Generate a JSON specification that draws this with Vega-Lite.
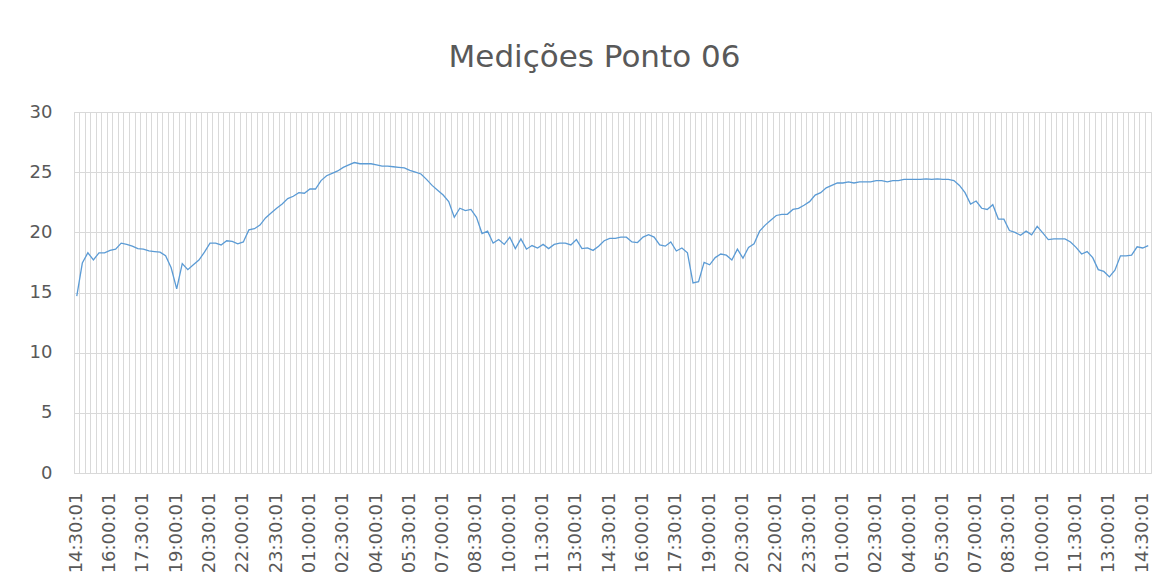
{
  "$schema": "https://vega.github.io/schema/vega-lite/v6.json",
  "autosize": "none",
  "width": 1077,
  "height": 361,
  "padding": {"left": 74, "top": 112, "right": 18, "bottom": 114},
  "background": "white",
  "title": {
    "text": "Medições Ponto 06",
    "font": "DejaVu Sans",
    "fontSize": 31,
    "fontWeight": "normal",
    "color": "#595959",
    "anchor": "middle",
    "frame": "group",
    "baseline": "bottom",
    "offset": 38,
    "dx": -18,
    "dy": 40
  },
  "config": {
    "view": {"stroke": "#d9d9d9", "strokeWidth": 1},
    "axis": {"labelFont": "DejaVu Sans", "labelColor": "#595959", "labelFontSize": 18}
  },
  "data": {
    "values": [
      {"k":"1 14:30:01","v":14.7},{"k":"1 14:45:01","v":17.45},{"k":"1 15:00:01","v":18.3},{"k":"1 15:15:01","v":17.7},
      {"k":"1 15:30:01","v":18.3},{"k":"1 15:45:01","v":18.3},{"k":"1 16:00:01","v":18.5},{"k":"1 16:15:01","v":18.6},
      {"k":"1 16:30:01","v":19.1},{"k":"1 16:45:01","v":19.0},{"k":"1 17:00:01","v":18.85},{"k":"1 17:15:01","v":18.65},
      {"k":"1 17:30:01","v":18.6},{"k":"1 17:45:01","v":18.45},{"k":"1 18:00:01","v":18.4},{"k":"1 18:15:01","v":18.35},
      {"k":"1 18:30:01","v":18.05},{"k":"1 18:45:01","v":17.05},{"k":"1 19:00:01","v":15.3},{"k":"1 19:15:01","v":17.4},
      {"k":"1 19:30:01","v":16.9},{"k":"1 19:45:01","v":17.3},{"k":"1 20:00:01","v":17.7},{"k":"1 20:15:01","v":18.35},
      {"k":"1 20:30:01","v":19.1},{"k":"1 20:45:01","v":19.1},{"k":"1 21:00:01","v":18.95},{"k":"1 21:15:01","v":19.3},
      {"k":"1 21:30:01","v":19.25},{"k":"1 21:45:01","v":19.05},{"k":"1 22:00:01","v":19.2},{"k":"1 22:15:01","v":20.2},
      {"k":"1 22:30:01","v":20.3},{"k":"1 22:45:01","v":20.6},{"k":"1 23:00:01","v":21.2},{"k":"1 23:15:01","v":21.6},
      {"k":"1 23:30:01","v":22.0},{"k":"1 23:45:01","v":22.35},
      {"k":"2 00:00:01","v":22.8},{"k":"2 00:15:01","v":23.0},{"k":"2 00:30:01","v":23.3},{"k":"2 00:45:01","v":23.25},
      {"k":"2 01:00:01","v":23.6},{"k":"2 01:15:01","v":23.6},{"k":"2 01:30:01","v":24.3},{"k":"2 01:45:01","v":24.7},
      {"k":"2 02:00:01","v":24.9},{"k":"2 02:15:01","v":25.1},{"k":"2 02:30:01","v":25.4},{"k":"2 02:45:01","v":25.6},
      {"k":"2 03:00:01","v":25.8},{"k":"2 03:15:01","v":25.7},{"k":"2 03:30:01","v":25.7},{"k":"2 03:45:01","v":25.7},
      {"k":"2 04:00:01","v":25.6},{"k":"2 04:15:01","v":25.5},{"k":"2 04:30:01","v":25.5},{"k":"2 04:45:01","v":25.45},
      {"k":"2 05:00:01","v":25.4},{"k":"2 05:15:01","v":25.35},{"k":"2 05:30:01","v":25.15},{"k":"2 05:45:01","v":25.0},
      {"k":"2 06:00:01","v":24.85},{"k":"2 06:15:01","v":24.4},{"k":"2 06:30:01","v":23.9},{"k":"2 06:45:01","v":23.5},
      {"k":"2 07:00:01","v":23.1},{"k":"2 07:15:01","v":22.55},{"k":"2 07:30:01","v":21.25},{"k":"2 07:45:01","v":22.0},
      {"k":"2 08:00:01","v":21.8},{"k":"2 08:15:01","v":21.9},{"k":"2 08:30:01","v":21.25},{"k":"2 08:45:01","v":19.9},
      {"k":"2 09:00:01","v":20.1},{"k":"2 09:15:01","v":19.1},{"k":"2 09:30:01","v":19.4},{"k":"2 09:45:01","v":19.0},
      {"k":"2 10:00:01","v":19.6},{"k":"2 10:15:01","v":18.65},{"k":"2 10:30:01","v":19.45},{"k":"2 10:45:01","v":18.6},
      {"k":"2 11:00:01","v":18.9},{"k":"2 11:15:01","v":18.7},{"k":"2 11:30:01","v":19.0},{"k":"2 11:45:01","v":18.65},
      {"k":"2 12:00:01","v":19.0},{"k":"2 12:15:01","v":19.1},{"k":"2 12:30:01","v":19.1},{"k":"2 12:45:01","v":18.95},
      {"k":"2 13:00:01","v":19.4},{"k":"2 13:15:01","v":18.65},{"k":"2 13:30:01","v":18.7},{"k":"2 13:45:01","v":18.5},
      {"k":"2 14:00:01","v":18.85},{"k":"2 14:15:01","v":19.3},{"k":"2 14:30:01","v":19.5},{"k":"2 14:45:01","v":19.5},
      {"k":"2 15:00:01","v":19.6},{"k":"2 15:15:01","v":19.6},{"k":"2 15:30:01","v":19.2},{"k":"2 15:45:01","v":19.15},
      {"k":"2 16:00:01","v":19.6},{"k":"2 16:15:01","v":19.8},{"k":"2 16:30:01","v":19.6},{"k":"2 16:45:01","v":18.95},
      {"k":"2 17:00:01","v":18.85},{"k":"2 17:15:01","v":19.2},{"k":"2 17:30:01","v":18.45},{"k":"2 17:45:01","v":18.7},
      {"k":"2 18:00:01","v":18.3},{"k":"2 18:15:01","v":15.8},{"k":"2 18:30:01","v":15.9},{"k":"2 18:45:01","v":17.5},
      {"k":"2 19:00:01","v":17.3},{"k":"2 19:15:01","v":17.9},{"k":"2 19:30:01","v":18.2},{"k":"2 19:45:01","v":18.1},
      {"k":"2 20:00:01","v":17.7},{"k":"2 20:15:01","v":18.6},{"k":"2 20:30:01","v":17.85},{"k":"2 20:45:01","v":18.75},
      {"k":"2 21:00:01","v":19.05},{"k":"2 21:15:01","v":20.1},{"k":"2 21:30:01","v":20.6},{"k":"2 21:45:01","v":21.0},
      {"k":"2 22:00:01","v":21.4},{"k":"2 22:15:01","v":21.5},{"k":"2 22:30:01","v":21.5},{"k":"2 22:45:01","v":21.9},
      {"k":"2 23:00:01","v":22.0},{"k":"2 23:15:01","v":22.25},{"k":"2 23:30:01","v":22.55},{"k":"2 23:45:01","v":23.1},
      {"k":"3 00:00:01","v":23.3},{"k":"3 00:15:01","v":23.7},{"k":"3 00:30:01","v":23.9},{"k":"3 00:45:01","v":24.1},
      {"k":"3 01:00:01","v":24.1},{"k":"3 01:15:01","v":24.2},{"k":"3 01:30:01","v":24.1},{"k":"3 01:45:01","v":24.2},
      {"k":"3 02:00:01","v":24.2},{"k":"3 02:15:01","v":24.2},{"k":"3 02:30:01","v":24.3},{"k":"3 02:45:01","v":24.3},
      {"k":"3 03:00:01","v":24.2},{"k":"3 03:15:01","v":24.3},{"k":"3 03:30:01","v":24.3},{"k":"3 03:45:01","v":24.4},
      {"k":"3 04:00:01","v":24.4},{"k":"3 04:15:01","v":24.4},{"k":"3 04:30:01","v":24.4},{"k":"3 04:45:01","v":24.45},
      {"k":"3 05:00:01","v":24.4},{"k":"3 05:15:01","v":24.45},{"k":"3 05:30:01","v":24.4},{"k":"3 05:45:01","v":24.4},
      {"k":"3 06:00:01","v":24.3},{"k":"3 06:15:01","v":23.9},{"k":"3 06:30:01","v":23.3},{"k":"3 06:45:01","v":22.35},
      {"k":"3 07:00:01","v":22.6},{"k":"3 07:15:01","v":22.0},{"k":"3 07:30:01","v":21.9},{"k":"3 07:45:01","v":22.3},
      {"k":"3 08:00:01","v":21.1},{"k":"3 08:15:01","v":21.1},{"k":"3 08:30:01","v":20.15},{"k":"3 08:45:01","v":20.0},
      {"k":"3 09:00:01","v":19.75},{"k":"3 09:15:01","v":20.1},{"k":"3 09:30:01","v":19.8},{"k":"3 09:45:01","v":20.5},
      {"k":"3 10:00:01","v":19.95},{"k":"3 10:15:01","v":19.4},{"k":"3 10:30:01","v":19.45},{"k":"3 10:45:01","v":19.45},
      {"k":"3 11:00:01","v":19.45},{"k":"3 11:15:01","v":19.2},{"k":"3 11:30:01","v":18.75},{"k":"3 11:45:01","v":18.2},
      {"k":"3 12:00:01","v":18.4},{"k":"3 12:15:01","v":17.9},{"k":"3 12:30:01","v":16.9},{"k":"3 12:45:01","v":16.75},
      {"k":"3 13:00:01","v":16.3},{"k":"3 13:15:01","v":16.85},{"k":"3 13:30:01","v":18.05},{"k":"3 13:45:01","v":18.05},
      {"k":"3 14:00:01","v":18.1},{"k":"3 14:15:01","v":18.8},{"k":"3 14:30:01","v":18.7},{"k":"3 14:45:01","v":18.9}
    ]
  },
  "encoding": {
    "y": {
      "field": "v",
      "type": "quantitative",
      "scale": {"domain": [0, 30], "nice": false, "zero": true},
      "axis": {
        "title": null,
        "values": [0, 5, 10, 15, 20, 25, 30],
        "grid": true,
        "gridColor": "#d9d9d9",
        "gridWidth": 1,
        "domain": false,
        "ticks": false,
        "labelPadding": 22
      }
    }
  },
  "layer": [
    {
      "mark": {"type": "line", "color": "#5b9bd5", "strokeWidth": 1.3, "interpolate": "linear"},
      "encoding": {
        "x": {
          "field": "k",
          "type": "ordinal",
          "sort": null,
          "bandPosition": 0.5,
          "scale": {"type": "band", "paddingInner": 0, "paddingOuter": 0},
          "axis": {
            "orient": "bottom",
            "title": null,
            "grid": true,
            "gridColor": "#d9d9d9",
            "gridWidth": 1,
            "bandPosition": 0,
            "labels": false,
            "ticks": false,
            "domain": false
          }
        }
      }
    },
    {
      "mark": {"type": "line", "strokeOpacity": 0},
      "encoding": {
        "x": {
          "field": "k",
          "type": "ordinal",
          "sort": null,
          "bandPosition": 0.5,
          "scale": {"type": "band", "paddingInner": 0, "paddingOuter": 0},
          "axis": {
            "orient": "bottom",
            "title": null,
            "grid": false,
            "ticks": false,
            "domain": false,
            "labelAngle": -90,
            "labelPadding": 19,
            "labelOverlap": false,
            "labelBound": false,
            "labelFlush": false,
            "values": ["1 14:30:01","1 16:00:01","1 17:30:01","1 19:00:01","1 20:30:01","1 22:00:01","1 23:30:01",
                       "2 01:00:01","2 02:30:01","2 04:00:01","2 05:30:01","2 07:00:01","2 08:30:01","2 10:00:01","2 11:30:01","2 13:00:01","2 14:30:01","2 16:00:01","2 17:30:01","2 19:00:01","2 20:30:01","2 22:00:01","2 23:30:01",
                       "3 01:00:01","3 02:30:01","3 04:00:01","3 05:30:01","3 07:00:01","3 08:30:01","3 10:00:01","3 11:30:01","3 13:00:01","3 14:30:01"],
            "labelExpr": "substring(datum.label, 2)"
          }
        }
      }
    }
  ],
  "resolve": {"axis": {"x": "independent"}}
}
